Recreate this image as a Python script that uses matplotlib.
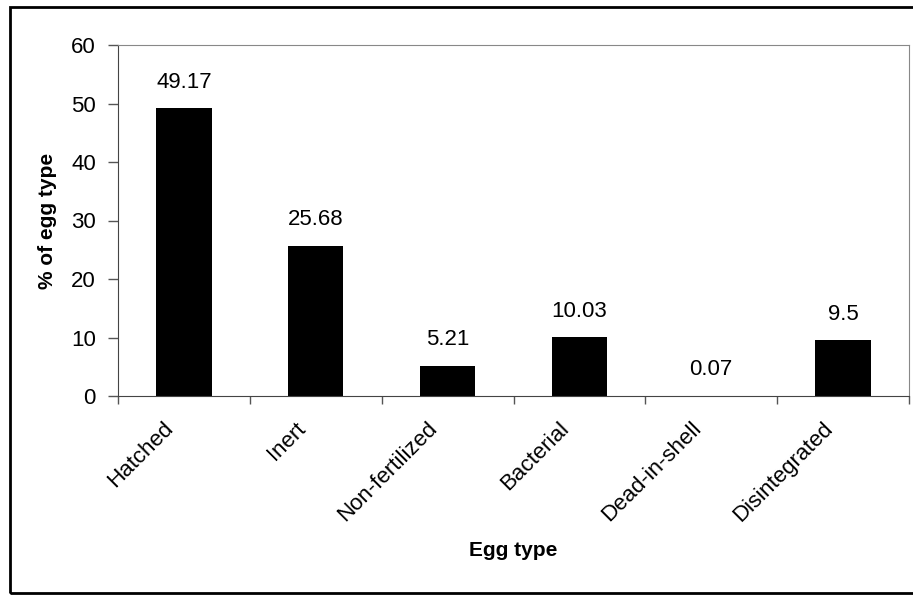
import matplotlib.pyplot as plt
from matplotlib.patches import Rectangle
from matplotlib.transforms import ScaledTranslation
import numpy as np

plt.rcParams["font.family"] = ["Liberation Sans", "DejaVu Sans"]

categories = ["Hatched", "Inert", "Non-fertilized", "Bacterial", "Dead-in-shell", "Disintegrated"]
values = [49.17, 25.68, 5.21, 10.03, 0.07, 9.5]
labels = ["49.17", "25.68", "5.21", "10.03", "0.07", "9.5"]
y_ticks = [0, 10, 20, 30, 40, 50, 60]

W, H = 913, 595
fig = plt.figure(figsize=(W / 100, H / 100), dpi=100)
ax = fig.add_axes([118 / W, 1 - 396 / H, (909 - 118) / W, (396 - 45) / H])

x = np.arange(len(categories))
ax.bar(x, values, width=0.42, color="black")
for xi, v, lab in zip(x, values, labels):
    ax.annotate(lab, (xi, v), xytext=(0, 11), textcoords="offset points",
                ha="center", va="bottom", fontsize=16)

ax.set_xlim(-0.5, len(categories) - 0.5)
ax.set_ylim(0, 60)
ax.set_yticks(y_ticks)
ax.tick_params(axis="y", labelsize=16, length=7, width=1, color="#555555", pad=9)
ax.set_xticks(x)
ax.set_xticklabels(categories, rotation=45, ha="right", rotation_mode="anchor", fontsize=16)
ax.tick_params(axis="x", length=0, pad=16)
shift = ScaledTranslation(-21 / 100, 0, fig.dpi_scale_trans)
for t in ax.get_xticklabels():
    t.set_transform(t.get_transform() + shift)
ax.set_xticks(np.arange(-0.5, len(categories)), minor=True)
ax.tick_params(axis="x", which="minor", length=6, width=1, color="#555555")

for side in ["top", "right"]:
    ax.spines[side].set_color("#888888")
for side in ["left", "bottom"]:
    ax.spines[side].set_color("#444444")

ax.set_ylabel("% of egg type", fontsize=15, fontweight="bold")
ax.yaxis.set_label_coords(-(118 - 57) / (909 - 118), 0.5)
ax.set_xlabel("Egg type", fontsize=15, fontweight="bold")
ax.xaxis.set_label_coords(0.5, -(551 - 396) / (396 - 45))
ax.xaxis.label.set_va("center")

fig.patches.append(Rectangle((10 / W, 1 - 593 / H), (W + 20) / W, (593 - 7) / H,
                             transform=fig.transFigure, fill=False,
                             edgecolor="black", linewidth=2))

fig.savefig("out.png", dpi=100)
